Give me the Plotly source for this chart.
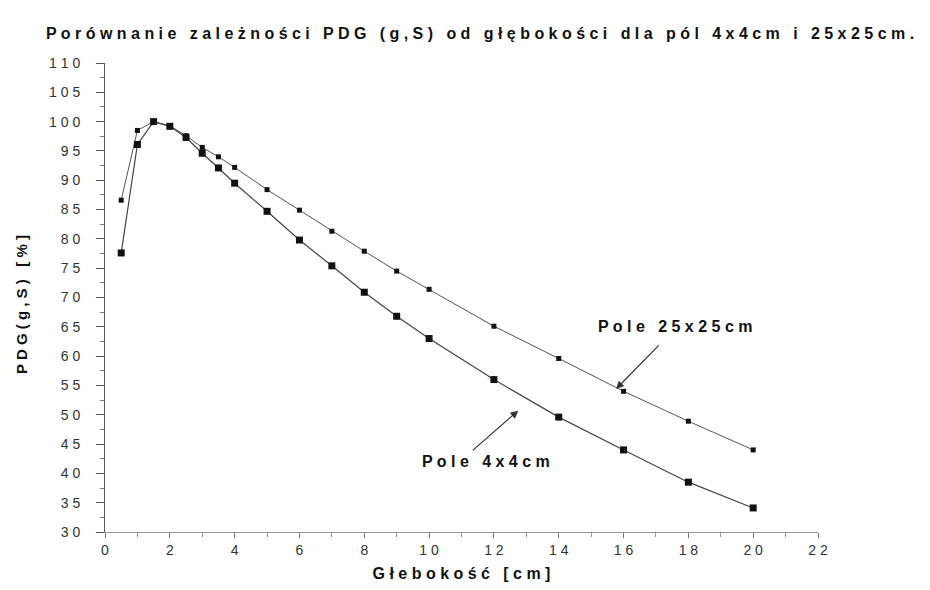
import plotly.graph_objects as go

depth = [0.5, 1, 1.5, 2, 2.5, 3, 3.5, 4, 5, 6, 7, 8, 9, 10, 12, 14, 16, 18, 20]
pdg_25x25 = [86.6, 98.5, 100, 99.3, 97.6, 95.6, 94.0, 92.2, 88.4, 84.9, 81.3, 77.9,
             74.5, 71.4, 65.1, 59.6, 54.0, 48.9, 44.0]
pdg_4x4 = [77.6, 96.1, 100, 99.2, 97.3, 94.6, 92.1, 89.5, 84.7, 79.8, 75.4, 70.9,
           66.8, 63.0, 56.0, 49.6, 44.0, 38.5, 34.1]

y_ticks = list(range(30, 111, 5))
x_ticks = list(range(0, 23, 2))

title_text = "Porównanie zależności PDG (g,S) od głębokości dla pól 4x4cm i 25x25cm."
x_title = "Głebokość [cm]"
y_title = "PDG(g,S) [%]"
label_25 = "Pole 25x25cm"
label_4 = "Pole 4x4cm"


def spaced(s):
    words = s.split(" ")
    return " \u00a0 ".join(" ".join(list(w)) for w in words)


FONT = "Liberation Sans, Arial, sans-serif"

fig = go.Figure()
fig.add_trace(go.Scatter(
    x=depth, y=pdg_25x25, mode="lines+markers",
    line=dict(color="#555555", width=1),
    marker=dict(symbol="square", size=5, color="#111111"),
    name=label_25,
))
fig.add_trace(go.Scatter(
    x=depth, y=pdg_4x4, mode="lines+markers",
    line=dict(color="#444444", width=1.2),
    marker=dict(symbol="square", size=7, color="#111111"),
    name=label_4,
))

fig.update_layout(
    width=930, height=590,
    margin=dict(l=97, r=120, t=55, b=66),
    paper_bgcolor="white", plot_bgcolor="white",
    showlegend=False,
    font=dict(family=FONT, color="#333333", size=12),
    title=dict(text=spaced(title_text), x=38 / 930, xanchor="left", y=1 - 25 / 590,
               yanchor="middle",
               font=dict(family=FONT, size=16, color="#111111", weight="bold")),
)

fig.update_xaxes(
    range=[0, 22], tickvals=x_ticks, ticktext=[spaced(str(v)) for v in x_ticks],
    showgrid=False, zeroline=False, showline=True, linecolor="#999999", linewidth=1,
    ticks="outside", ticklen=5, tickcolor="#777777",
    minor=dict(dtick=1, ticks="outside", ticklen=4, tickcolor="#999999"),
    tickfont=dict(family=FONT, size=14, color="#333333"),
    title=dict(text=spaced(x_title), standoff=11,
               font=dict(family=FONT, size=16, color="#111111", weight="bold")),
)
fig.update_yaxes(
    range=[30, 110], tickvals=y_ticks, ticktext=[spaced(str(v)) for v in y_ticks],
    showgrid=False, zeroline=False, showline=True, linecolor="#555555", linewidth=1,
    ticks="outside", ticklen=8, tickcolor="#555555", ticklabelstandoff=13,
    minor=dict(dtick=2.5, ticks="outside", ticklen=4, tickcolor="#777777"),
    tickfont=dict(family=FONT, size=14, color="#333333"),
)

fig.add_annotation(
    text=spaced(y_title), xref="paper", yref="paper",
    x=-84 / 713, y=(524 - 297) / 469, textangle=-90, showarrow=False,
    xanchor="center", yanchor="middle",
    font=dict(family=FONT, size=15, color="#111111", weight="bold"),
)

# Arrows
fig.add_annotation(x=15.77, y=54.4, ax=17.13, ay=62.1, xref="x", yref="y",
                   axref="x", ayref="y", text="", showarrow=True, arrowhead=2,
                   arrowsize=1.3, arrowwidth=1.2, arrowcolor="#333333")
fig.add_annotation(x=12.75, y=50.7, ax=11.30, ay=43.7, xref="x", yref="y",
                   axref="x", ayref="y", text="", showarrow=True, arrowhead=2,
                   arrowsize=1.3, arrowwidth=1.2, arrowcolor="#333333")

# Labels
fig.add_annotation(x=17.58, y=65.0, text=spaced(label_25), showarrow=False,
                   xanchor="center", yanchor="middle",
                   font=dict(family=FONT, size=16, color="#111111", weight="bold"))
fig.add_annotation(x=11.77, y=42.0, text=spaced(label_4), showarrow=False,
                   xanchor="center", yanchor="middle",
                   font=dict(family=FONT, size=16, color="#111111", weight="bold"))

fig.write_html("out.html")
